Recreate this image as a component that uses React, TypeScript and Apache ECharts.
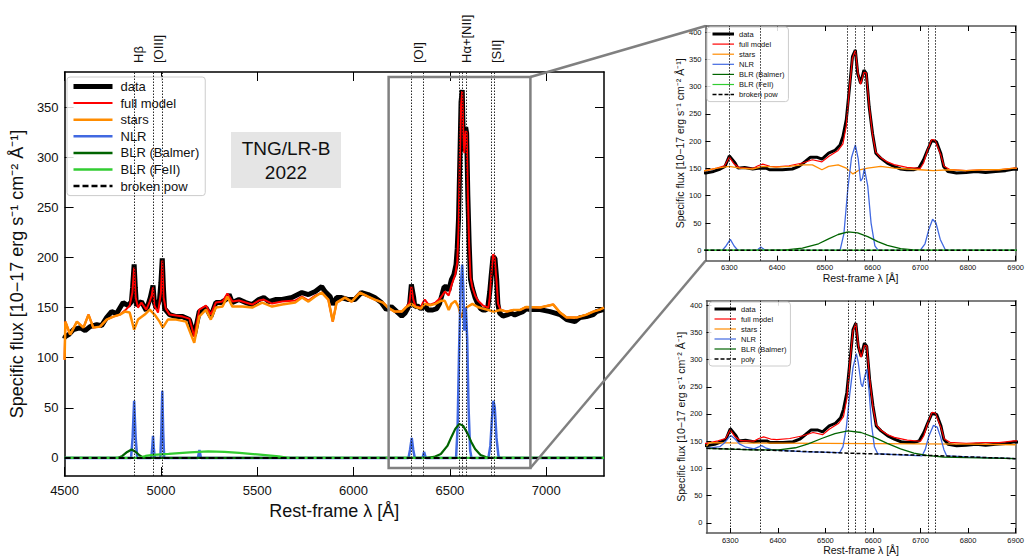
import React, { useEffect, useRef } from "react";
import * as echarts from "echarts";

const FONT = "'Liberation Sans', Arial, Helvetica, sans-serif";

// ---- axes / ticks ----
const mainXTicks = [4500, 5000, 5500, 6000, 6500, 7000];
const mainYTicks = [0, 50, 100, 150, 200, 250, 300, 350];
const insetXTicks = [6300, 6400, 6500, 6600, 6700, 6800, 6900];
const insetYTicks = [0, 50, 100, 150, 200, 250, 300, 350, 400];
const mainXRange = [4500, 7300];
const mainYRange = [-18, 385];
const insetXRange = [6250, 6900];
const topYRange = [-19, 411];
const botYRange = [-18.5, 408];

// ---- emission line markers ----
const emissionLines = [4861, 4959, 5007, 6300, 6364, 6548, 6563, 6583, 6716, 6731];
const insetEmissionLines = [6300, 6364, 6548, 6563, 6583, 6716, 6731];
const lineLabels = ["Hβ", "[OIII]", "[OI]", "Hα+[NII]", "[SII]"];
const lineLabelWave = [4885, 4985, 6337, 6585, 6740];
const zoomBoxWave = [6182, 6918];
const zoomBoxFlux = [-10, 380];

// ---- spectrum: observed data ----
const dataSpec = [
  [4500, 119], [4503, 121], [4521, 123], [4546, 128], [4581, 130], [4607, 127], [4632, 131], [4667, 133],
  [4692, 132], [4718, 140], [4744, 146], [4770, 144], [4804, 155], [4830, 152], [4847, 156], [4853, 170],
  [4861, 193], [4867, 170], [4873, 152], [4899, 156], [4924, 147], [4945, 160], [4959, 172], [4966, 155],
  [4976, 149], [4993, 158], [5000, 175], [5007, 199], [5013, 170], [5019, 149], [5045, 143], [5079, 141],
  [5113, 141], [5148, 138], [5173, 122], [5199, 146], [5234, 150], [5259, 141], [5285, 155], [5311, 155],
  [5337, 158], [5354, 163], [5371, 155], [5405, 158], [5440, 155], [5474, 153], [5508, 158], [5534, 160],
  [5560, 156], [5594, 158], [5629, 158], [5680, 160], [5732, 165], [5766, 163], [5801, 166], [5835, 171],
  [5852, 166], [5878, 161], [5895, 153], [5912, 160], [5938, 160], [5973, 158], [6007, 158], [6041, 165],
  [6076, 163], [6110, 160], [6144, 155], [6170, 148], [6196, 151], [6230, 145], [6250, 141.5], [6267, 144.5],
  [6281, 149], [6291, 153.7], [6300, 173], [6312, 160], [6318, 150.6], [6332, 151.8], [6349, 149], [6364, 150.6],
  [6377, 150.6], [6384, 147.6], [6398, 147.6], [6411, 147.6], [6432, 149], [6446, 153.7], [6459, 162.8],
  [6470, 170.7], [6483, 170.7], [6494, 167], [6508, 178], [6521, 183], [6532, 193], [6538, 208.5], [6545, 239],
  [6552, 300], [6558, 355], [6564, 367], [6569, 324], [6575, 306], [6582, 330], [6587, 324], [6593, 263],
  [6600, 214.6], [6607, 178], [6617, 169], [6631, 159.8], [6645, 153.7], [6659, 149], [6672, 147.6],
  [6686, 147.6], [6697, 150.6], [6707, 165.9], [6714, 181], [6724, 201], [6734, 199], [6743, 178],
  [6749, 153.7], [6758, 144.5], [6776, 141.5], [6796, 142.7], [6817, 144.5], [6837, 142.7], [6858, 144.5],
  [6879, 146], [6897, 148.8], [6917, 148], [6969, 148], [7020, 146], [7072, 143], [7106, 138], [7149, 136],
  [7175, 140], [7209, 141], [7244, 143], [7261, 146], [7295, 148], [7300, 148],
];

// ---- full model ----
const modelSpec = [
  [4500, 98], [4504, 136], [4529, 123], [4564, 136], [4598, 130], [4624, 143], [4649, 130], [4684, 131],
  [4718, 138], [4753, 141], [4787, 143], [4813, 147], [4838, 152], [4852, 165], [4861, 190], [4869, 160],
  [4881, 150], [4899, 155], [4924, 148], [4942, 156], [4952, 162], [4959, 170], [4966, 152], [4985, 145],
  [5000, 165], [5007, 197], [5014, 160], [5025, 149], [5045, 143], [5079, 142], [5113, 141], [5148, 139],
  [5173, 121], [5199, 148], [5234, 152], [5259, 143], [5285, 155], [5320, 156], [5345, 164], [5371, 156],
  [5405, 157], [5440, 155], [5474, 153], [5508, 157], [5534, 158], [5577, 154], [5629, 156], [5697, 157],
  [5732, 161], [5766, 157], [5801, 162], [5835, 165], [5869, 158], [5892, 136], [5912, 155], [5955, 160],
  [5990, 156], [6033, 165], [6076, 161], [6110, 158], [6153, 155], [6179, 150], [6213, 146], [6250, 146],
  [6274, 150.6], [6290, 155], [6300, 171], [6310, 158], [6322, 151], [6349, 150], [6360, 155], [6370, 158],
  [6385, 154], [6398, 153], [6425, 155], [6453, 160], [6474, 166], [6494, 162], [6508, 172], [6528, 183],
  [6538, 195], [6545, 228], [6552, 300], [6558, 352], [6564, 366], [6570, 322], [6575, 304], [6582, 326],
  [6587, 325], [6593, 265], [6600, 212], [6607, 180], [6617, 170], [6631, 162], [6645, 157], [6672, 152],
  [6700, 150], [6707, 160], [6714, 180], [6724, 203], [6731, 202], [6743, 175], [6750, 154], [6762, 148],
  [6796, 146], [6830, 147.6], [6865, 147.6], [6897, 150.6], [6969, 150], [7037, 153], [7072, 145],
  [7106, 140], [7158, 140], [7209, 143], [7244, 146], [7278, 148], [7300, 150],
];

// ---- stellar continuum ----
const starsSpec = [
  [4500, 98], [4504, 136], [4529, 123], [4564, 136], [4598, 130], [4624, 143], [4649, 130], [4684, 131],
  [4718, 138], [4753, 141], [4787, 143], [4813, 146], [4838, 145], [4861, 128], [4881, 138], [4916, 143],
  [4942, 148], [4967, 143], [4993, 136], [5010, 130], [5036, 138], [5079, 138], [5130, 136], [5173, 115],
  [5199, 141], [5234, 148], [5259, 138], [5285, 150], [5320, 151], [5345, 161], [5371, 151], [5423, 151],
  [5474, 150], [5526, 155], [5577, 151], [5629, 153], [5697, 155], [5732, 160], [5766, 156], [5801, 161],
  [5835, 165], [5869, 158], [5892, 136], [5912, 155], [5955, 160], [5990, 156], [6033, 165], [6076, 161],
  [6110, 158], [6153, 155], [6179, 150], [6213, 146], [6250, 146], [6274, 150.6], [6300, 153.7], [6322, 150.6],
  [6349, 149], [6370, 153.7], [6398, 152.4], [6425, 153.7], [6453, 156.7], [6474, 156.7], [6494, 147.6],
  [6508, 153.7], [6528, 156.7], [6545, 150.6], [6559, 140], [6573, 147.6], [6590, 150.6], [6617, 153.7],
  [6645, 150.6], [6672, 149], [6700, 147.6], [6727, 146], [6762, 147.6], [6796, 146], [6830, 147.6],
  [6865, 147.6], [6897, 150.6], [6969, 150], [7037, 153], [7072, 145], [7106, 140], [7158, 140],
  [7209, 143], [7244, 146], [7278, 148], [7300, 150],
];

// ---- narrow line region ----
const nlrSpec = [
  [4500, 0], [4845, 0], [4853, 20], [4861, 57], [4869, 20], [4877, 0], [4950, 0], [4955, 10], [4959, 22],
  [4963, 10], [4968, 0], [4997, 0], [5002, 25], [5007, 67], [5012, 25], [5017, 0], [5192, 0], [5200, 8],
  [5208, 0], [6285, 0], [6293, 8], [6302, 20], [6310, 8], [6318, 0], [6358, 0], [6366, 6], [6375, 0],
  [6532, 0], [6540, 30], [6548, 110], [6556, 170], [6564, 193], [6570, 168], [6575, 127], [6579, 132],
  [6583, 150], [6590, 118], [6597, 50], [6605, 8], [6612, 0], [6700, 0], [6710, 12], [6718, 38],
  [6726, 57], [6733, 50], [6742, 20], [6752, 2], [6758, 0], [7300, 0],
];

// ---- broad line region (Balmer) ----
const blrSpec = [
  [4500, 0], [4775, 0], [4800, 2], [4825, 6], [4848, 8.5], [4870, 6], [4890, 2.5], [4910, 0], [6380, 0],
  [6418, 1], [6453, 4], [6487, 12], [6508, 21], [6528, 29], [6549, 34], [6569, 32], [6590, 25], [6611, 16],
  [6631, 9], [6659, 3], [6686, 1], [6710, 0], [7300, 0],
];

// ---- broad line region (FeII) ----
const feiiSpec = [
  [4500, 0], [4880, 0], [4920, 2], [4960, 3], [5040, 4], [5150, 5.5], [5245, 6.5], [5330, 6], [5407, 5],
  [5500, 3.5], [5612, 1.5], [5660, 0], [7300, 0],
];

// ---- broken power law ----
const brokenPowSpec = [[4500, 0], [7300, 0]];

// ---- lower inset (poly fit) ----
const polySpec = [[6250, 137], [6400, 133], [6550, 128], [6730, 123.5], [6900, 118]];
const polyStarsSpec = [
  [6250, 141], [6256, 147.5], [6300, 147], [6400, 146.5], [6500, 146], [6600, 145.5], [6700, 145],
  [6800, 144.5], [6900, 143.5],
];
const polyNlrSpec = [
  [6250, 137], [6278, 140], [6288, 147], [6298, 158], [6302, 160], [6309, 155], [6319, 145], [6333, 139],
  [6350, 136], [6361, 140], [6366, 142], [6374, 138], [6388, 134], [6450, 131], [6530, 129], [6537, 140],
  [6544, 175], [6551, 235], [6558, 285], [6565, 311], [6569, 295], [6575, 255], [6578, 250], [6583, 270],
  [6587, 282], [6592, 240], [6597, 180], [6603, 140], [6610, 127], [6658, 125], [6703, 123], [6710, 135],
  [6717, 158], [6727, 179], [6735, 176], [6742, 158], [6749, 135], [6755, 123], [6800, 121], [6900, 118],
];
const polyBlrSpec = [
  [6250, 137], [6347, 134], [6402, 134], [6437, 138], [6464, 145], [6492, 155], [6520, 164], [6547, 169],
  [6575, 166], [6603, 157], [6630, 146], [6658, 136], [6686, 128], [6713, 124], [6748, 121], [6796, 120],
  [6900, 118],
];

const C = {
  data: "#000000",
  model: "#ff0000",
  stars: "#ff8c00",
  nlr: "#4169e1",
  blr: "#006400",
  feii: "#32cd32",
};

const yTitle = "Specific flux [10−17 erg s⁻¹ cm⁻² Å⁻¹]";
const xTitle = "Rest-frame λ [Å]";

function axisPair(kind: "x" | "y", g: number, range: number[], ticks: number[], o: any) {
  const common = {
    type: "value",
    gridIndex: g,
    min: range[0],
    max: range[1],
    splitLine: { show: false },
    axisLine: { show: true, onZero: false, lineStyle: { color: o.lineColor, width: o.lineWidth } },
    axisTick: { show: true, inside: true, length: o.tickLen, customValues: ticks, lineStyle: { color: "#000", width: 1 } },
  };
  const main = {
    ...common,
    position: kind === "x" ? "bottom" : "left",
    axisLabel: {
      show: true,
      customValues: ticks,
      fontSize: o.labelSize,
      color: "#111",
      margin: o.labelMargin,
      fontFamily: FONT,
      formatter: (v: number) => String(v),
    },
    name: kind === "x" ? xTitle : yTitle,
    nameLocation: "middle",
    nameGap: o.nameGap,
    nameTextStyle: { fontSize: o.nameSize, color: "#111", fontFamily: FONT },
  };
  const second = {
    ...common,
    position: kind === "x" ? "top" : "right",
    axisLabel: { show: false },
  };
  return [main, second];
}

function line(name: string, data: number[][], g: number, color: string, width: number, dash?: number[]) {
  return {
    type: "line",
    name,
    data,
    xAxisIndex: g,
    yAxisIndex: g,
    symbol: "none",
    showSymbol: false,
    silent: true,
    clip: true,
    animation: false,
    lineStyle: { color, width, type: dash ? dash : "solid" },
    itemStyle: { color },
  };
}

function markers(vals: number[]) {
  return {
    silent: true,
    symbol: ["none", "none"],
    label: { show: false },
    animation: false,
    lineStyle: { color: "#111", width: 0.9, type: [1.5, 1.5] },
    data: vals.map((v) => ({ xAxis: v })),
  };
}

function buildOption() {
  const mainO = { lineColor: "#000", lineWidth: 1.5, tickLen: 9, labelSize: 13, labelMargin: 8, nameSize: 18 };
  const topO = { lineColor: "#555", lineWidth: 1.5, tickLen: 5, labelSize: 7.5, labelMargin: 3, nameSize: 10.5 };
  const botO = { ...topO };
  const [mx, mx2] = axisPair("x", 0, mainXRange, mainXTicks, { ...mainO, nameGap: 22 });
  const [my, my2] = axisPair("y", 0, mainYRange, mainYTicks, { ...mainO, labelMargin: 6, nameGap: 20 });
  const [tx, tx2] = axisPair("x", 1, insetXRange, insetXTicks, { ...topO, nameGap: 12 });
  const [ty, ty2] = axisPair("y", 1, topYRange, insetYTicks, { ...topO, labelMargin: 4, nameGap: 16 });
  const [bx, bx2] = axisPair("x", 2, insetXRange, insetXTicks, { ...botO, nameGap: 8 });
  const [by, by2] = axisPair("y", 2, botYRange, insetYTicks, { ...botO, labelMargin: 4, nameGap: 16 });

  const legendBase = {
    orient: "vertical",
    selectedMode: false,
    backgroundColor: "rgba(255,255,255,0.85)",
    borderColor: "#cccccc",
    borderWidth: 1,
    borderRadius: 3,
    itemStyle: { opacity: 0 },
  };

  const mainBroken = line("broken pow", brokenPowSpec, 0, "#000", 2, [6, 3]) as any;
  mainBroken.markLine = markers(emissionLines);
  const topBroken = line("broken pow", brokenPowSpec, 1, "#000", 1.5, [4, 2]) as any;
  topBroken.markLine = markers(insetEmissionLines);
  const botPoly = line("poly", polySpec, 2, "#000", 1.5, [4, 2]) as any;
  botPoly.markLine = markers(insetEmissionLines);

  return {
    animation: false,
    textStyle: { fontFamily: FONT },
    grid: [
      { left: 61, top: 72, width: 543, height: 404, show: false },
      { left: 705.5, top: 26, width: 314.5, height: 234.7, show: false },
      { left: 706.5, top: 300.7, width: 313, height: 232.3, show: false },
    ],
    xAxis: [mx, tx, bx, mx2, tx2, bx2],
    yAxis: [my, ty, by, my2, ty2, by2],
    legend: [
      {
        ...legendBase,
        left: 67,
        top: 77,
        itemWidth: 39,
        itemHeight: 14,
        itemGap: 3.6,
        padding: [3, 6, 3, 4],
        textStyle: { fontSize: 13, color: "#111", fontFamily: FONT, padding: [0, 0, 0, 3] },
        data: [
          { name: "data", lineStyle: { width: 5 } },
          { name: "full model", lineStyle: { width: 2 } },
          { name: "stars", lineStyle: { width: 2.5 } },
          { name: "NLR", lineStyle: { width: 2.5 } },
          { name: "BLR (Balmer)", lineStyle: { width: 2.5 } },
          { name: "BLR (FeII)", lineStyle: { width: 2.5 } },
          { name: "broken pow", lineStyle: { width: 2.5, type: [6, 3] } },
        ],
      },
      {
        ...legendBase,
        left: 707,
        top: 27,
        itemWidth: 21.5,
        itemHeight: 8,
        itemGap: 2.1,
        padding: [3, 4, 3, 4],
        textStyle: { fontSize: 7.5, color: "#111", fontFamily: FONT },
        data: [
          { name: "data", lineStyle: { width: 3 } },
          { name: "full model", lineStyle: { width: 1.2 } },
          { name: "stars", lineStyle: { width: 1.2 } },
          { name: "NLR", lineStyle: { width: 1.2 } },
          { name: "BLR (Balmer)", lineStyle: { width: 1.2 } },
          { name: "BLR (FeII)", lineStyle: { width: 1.2 } },
          { name: "broken pow", lineStyle: { width: 1.5, type: [4, 2] } },
        ],
      },
      {
        ...legendBase,
        left: 709,
        top: 302,
        itemWidth: 21.5,
        itemHeight: 8,
        itemGap: 2,
        padding: [3, 4, 3, 4],
        textStyle: { fontSize: 7.5, color: "#111", fontFamily: FONT },
        data: [
          { name: "data", lineStyle: { width: 3 } },
          { name: "full model", lineStyle: { width: 1.2 } },
          { name: "stars", lineStyle: { width: 1.2 } },
          { name: "NLR", lineStyle: { width: 1.2 } },
          { name: "BLR (Balmer)", lineStyle: { width: 1.2 } },
          { name: "poly", lineStyle: { width: 1.5, type: [4, 2] } },
        ],
      },
    ],
    series: [
      line("data", dataSpec, 0, C.data, 5),
      line("full model", modelSpec, 0, C.model, 2),
      line("stars", starsSpec, 0, C.stars, 2.5),
      line("NLR", nlrSpec, 0, C.nlr, 2.5),
      line("BLR (Balmer)", blrSpec, 0, C.blr, 2.2),
      line("BLR (FeII)", feiiSpec, 0, C.feii, 2.2),
      mainBroken,
      line("data", dataSpec, 1, C.data, 3),
      line("full model", modelSpec, 1, C.model, 1.2),
      line("stars", starsSpec, 1, C.stars, 1.3),
      line("NLR", nlrSpec, 1, C.nlr, 1.3),
      line("BLR (Balmer)", blrSpec, 1, C.blr, 1.3),
      line("BLR (FeII)", feiiSpec, 1, C.feii, 1.5),
      topBroken,
      line("data", dataSpec, 2, C.data, 3),
      line("full model", modelSpec, 2, C.model, 1.2),
      line("stars", polyStarsSpec, 2, C.stars, 1.3),
      line("NLR", polyNlrSpec, 2, C.nlr, 1.3),
      line("BLR (Balmer)", polyBlrSpec, 2, C.blr, 1.3),
      botPoly,
    ],
  };
}

export default function App() {
  const ref = useRef<HTMLDivElement>(null);
  useEffect(() => {
    const chart = echarts.init(ref.current as HTMLDivElement, null, { renderer: "svg" });
    chart.setOption(buildOption() as any);
    const px = (g: number, x: number, y: number) => chart.convertToPixel({ gridIndex: g } as any, [x, y]) as number[];

    const b0 = px(0, zoomBoxWave[0], zoomBoxFlux[1]);
    const b1 = px(0, zoomBoxWave[1], zoomBoxFlux[0]);
    const insTL = px(1, insetXRange[0], topYRange[1]);
    const insBL = px(1, insetXRange[0], topYRange[0]);
    const gray = "#808080";
    const elements: any[] = [
      {
        type: "rect",
        z: 50,
        silent: true,
        shape: { x: b0[0], y: b0[1], width: b1[0] - b0[0], height: b1[1] - b0[1] },
        style: { fill: "none", stroke: gray, lineWidth: 2.5 },
      },
      {
        type: "line",
        z: 50,
        silent: true,
        shape: { x1: b1[0], y1: b0[1], x2: insTL[0], y2: insTL[1] },
        style: { stroke: gray, lineWidth: 2.5 },
      },
      {
        type: "line",
        z: 50,
        silent: true,
        shape: { x1: b1[0], y1: b1[1], x2: insBL[0], y2: insBL[1] },
        style: { stroke: gray, lineWidth: 2.5 },
      },
      {
        type: "rect",
        z: 40,
        silent: true,
        shape: { x: 231, y: 132, width: 110, height: 56 },
        style: { fill: "#e5e5e5" },
      },
      {
        type: "text",
        z: 41,
        silent: true,
        x: 286,
        y: 160,
        style: {
          text: "TNG/LR-B\n2022",
          fill: "#111",
          font: `19px ${FONT}`,
          lineHeight: 24,
          align: "center",
          verticalAlign: "middle",
          textAlign: "center",
          textVerticalAlign: "middle",
        },
      },
    ];
    lineLabels.forEach((t, i) => {
      const p = px(0, lineLabelWave[i], 0);
      elements.push({
        type: "text",
        z: 50,
        silent: true,
        x: p[0],
        y: 63,
        rotation: Math.PI / 2,
        style: {
          text: t,
          fill: "#111",
          font: `13px ${FONT}`,
          align: "left",
          verticalAlign: "middle",
          textAlign: "left",
          textVerticalAlign: "middle",
        },
      });
    });
    chart.setOption({ graphic: elements } as any);
    return () => chart.dispose();
  }, []);
  return <div ref={ref} style={{ position: "absolute", left: 0, top: 0, width: 1027, height: 559 }} />;
}
